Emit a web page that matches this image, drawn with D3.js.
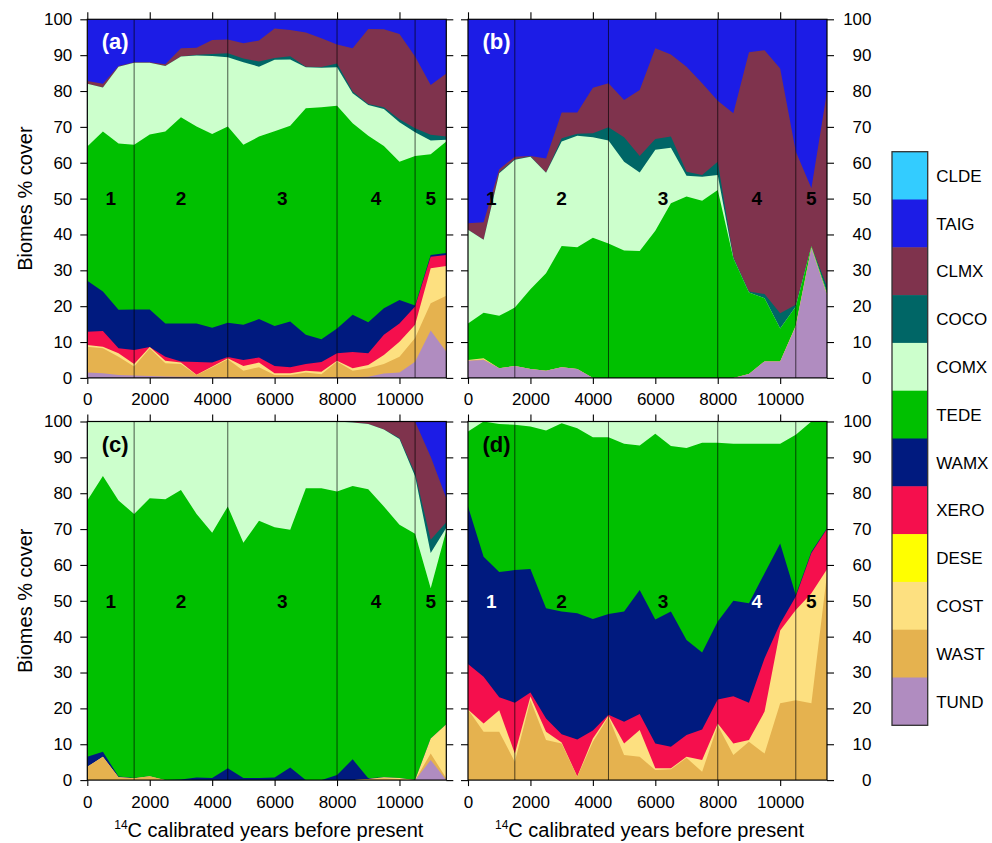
<!DOCTYPE html>
<html>
<head>
<meta charset="utf-8">
<script src="https://cdn.jsdelivr.net/npm/d3@7"></script>
<style>
  body { margin: 0; background: #fff; }
  svg { display: block; }
  text { font-family: "Liberation Sans", Arial, Helvetica, sans-serif; }
</style>
</head>
<body>
<svg id="chart" width="992" height="843"></svg>
<script>
// ---- time axis (calibrated years BP) ----
const years = [0, 500, 1000, 1500, 2000, 2500, 3000, 3500, 4000, 4500, 5000, 5500,
               6000, 6500, 7000, 7500, 8000, 8500, 9000, 9500, 10000, 10500, 11000, 11500];

// ---- biomes, bottom of the stack first ----
const biomes = ["TUND", "WAST", "COST", "DESE", "XERO", "WAMX", "TEDE", "COMX", "COCO", "CLMX", "TAIG", "CLDE"];
const biomeColors = ["#b08cc0", "#e5b24f", "#fde080", "#ffff00", "#f50f4d", "#001a7f",
                     "#00c000", "#ccffcc", "#006666", "#7f334d", "#1c1ce6", "#33ccff"];

const yTicks = [0, 10, 20, 30, 40, 50, 60, 70, 80, 90, 100];
const xTicks = [0, 2000, 4000, 6000, 8000, 10000];
const zoneBounds = [1500, 4500, 8000, 10500];
const zoneNames = ["1", "2", "3", "4", "5"];
const zoneCenters = [750, 3000, 6250, 9250, 11000];

// ---- panel (a) ----
const A_TUND = [1.5,1.3,0.8,0.7,0.5,0.4,0.3,0.3,0.2,0.2,0.2,0.2,0.2,0.2,0.2,0.2,0.2,0.2,0.3,1.2,1.5,4.5,13.2,7.3];
const A_WAST = [7.2,7.0,5.1,2.5,7.8,3.7,3.6,0.5,2.8,5.0,1.8,2.8,0.6,0.6,1.3,0.8,4.4,1.8,2.4,2.7,4.4,6.6,7.6,15.6];
const A_COST = [0.5,0.4,1.0,0.7,0.3,0.7,0.4,0.1,0.2,0.3,1.3,1.3,0.5,0.5,0.5,0.7,0.2,0.7,0.9,2.5,4.2,3.7,9.8,8.3];
const A_XERO = [3.7,4.4,1.4,3.9,0.0,1.1,0.3,3.5,1.1,0.3,1.7,1.4,2.0,1.7,1.9,2.7,2.1,4.5,3.3,5.6,5.1,5.1,3.2,3.1];
const A_WAMX = [14.2,11.0,10.7,11.3,10.5,9.3,10.6,10.8,9.7,9.6,9.8,10.7,11.2,12.7,8.1,6.4,6.9,10.4,8.6,7.4,6.5,0.3,0.5,0.5];
const A_TEDE = [37.4,44.6,46.4,45.9,48.8,53.5,57.5,54.9,54.0,54.7,50.2,50.9,54.3,54.6,63.2,64.7,62.1,53.4,52.0,45.3,38.6,41.7,28.1,31.1];
const A_COMX = [17.5,12.3,21.4,22.9,20.0,18.3,16.9,19.8,21.8,19.3,23.0,19.5,19.9,18.5,11.4,11.0,10.7,8.4,8.6,10.3,11.0,6.6,3.8,0.5];
const A_COCO = [0,0,0,0,0,0,0,0.2,0.5,1.1,1.1,1.4,0.5,0.9,0.2,0.2,1.1,0.5,0.3,0.5,0.8,1.1,1.6,0.9];
const A_CLMX = [0.8,1.0,0.2,0.1,0.1,0.5,2.3,2.0,3.9,3.9,4.2,5.9,8.2,7.3,9.5,8.0,5.3,12.0,20.9,21.7,23.8,20.0,13.9,17.6];
const A_TAIG = [17.2,18.0,13.0,12.0,12.0,12.5,8.1,7.9,5.8,5.6,6.7,5.9,2.6,3.0,3.7,5.3,7.0,8.1,2.7,2.8,4.1,10.4,18.3,15.1];

// ---- panel (b) ----
const B_TUND = [4.8,5.0,2.7,3.3,2.5,2.0,3.0,2.5,0,0,0,0,0,0,0,0,0,0,1.1,4.6,4.6,14.3,36.2,23.1];
const B_WAST = [0,0.2,0,0,0,0,0,0,0,0,0,0,0,0,0,0,0,0,0,0,0,0,0,0];
const B_COST = [0.2,0.3,0,0,0,0,0,0,0,0,0,0,0,0,0,0,0,0,0,0,0,0.3,0.2,0.3];
const B_TEDE = [10.2,12.7,14.6,16.3,22.2,27.2,33.8,33.9,39.1,37.5,35.5,35.4,41.0,48.7,50.6,49.4,52.4,33.4,22.7,17.6,9.2,5.3,0.3,0.5];
const B_COMX = [26.1,20.3,39.8,41.2,37.0,28.0,29.1,31.1,28.0,28.7,24.8,21.9,22.6,15.5,5.8,6.7,4.2,0,0,0,0,0,0,0];
const B_COCO = [0,0,0.2,0.2,0.1,0,0.9,0.6,1.1,3.7,6.8,4.6,3.0,3.1,1.1,0.5,3.7,0.3,0.3,1.2,4.2,0.5,0,1.6];
const B_CLMX = [1.8,4.9,0.9,0.7,0.1,4.0,7.2,5.9,12.7,12.3,10.4,18.4,25.3,22.9,29.3,25.6,17.0,40.1,66.7,68.0,68.3,42.7,16.2,54.3];
const B_TAIG = [56.9,56.6,41.8,38.3,38.1,38.8,26.0,26.0,19.1,17.8,22.5,19.7,8.1,9.8,13.2,17.8,22.7,26.2,9.2,8.6,13.7,36.9,47.1,20.2];

// ---- panel (c) ----
const C_TUND = [0,0,0,0,0,0,0,0,0,0,0,0,0,0,0,0,0,0,0,0,0,0,5.6,0];
const C_WAST = [3.7,6.5,0.8,0.5,1.1,0,0,0,0,0,0,0,0,0,0,0,0,0,0.3,0.5,0.3,0,1.8,0.5];
const C_COST = [0,0,0,0,0,0,0,0,0,0,0,0,0,0,0,0,0,0,0,0.3,0.3,0,4.2,15.1];
const C_WAMX = [2.8,1.4,0.2,0.1,0,0,0.2,0.7,0.6,3.3,0.6,0.6,0.7,3.5,0,0,1.4,5.8,0.2,0,0,0,0,0];
const C_TEDE = [71.5,76.9,77.0,73.6,77.5,78.3,80.7,73.5,68.4,73.0,65.6,71.7,69.8,66.3,81.4,81.4,79.1,76.2,80.6,75.5,70.6,68.7,41.9,54.0];
const C_COMX = [22.0,15.2,22.0,25.8,21.4,21.7,19.1,25.8,31.0,23.7,33.8,27.7,29.5,30.2,18.6,18.6,19.5,17.7,18.2,21.5,23.9,16.0,9.8,0.8];
const C_COCO = [0,0,0,0,0,0,0,0,0,0,0,0,0,0,0,0,0,0,0,0,0.3,0.9,3.7,1.5];
const C_CLMX = [0,0,0,0,0,0,0,0,0,0,0,0,0,0,0,0,0,0.3,0.7,2.2,4.6,14.4,23.2,6.7];
const C_TAIG = [0,0,0,0,0,0,0,0,0,0,0,0,0,0,0,0,0,0,0,0,0,0,9.8,21.4];

// ---- panel (d) ----
const D_WAST = [19.7,13.5,13.5,5.1,22.3,11.2,10.2,0.9,10.7,17.7,7.0,6.5,2.8,3.0,6.2,2.3,15.3,7.0,10.7,7.4,21.4,22.3,21.4,57.5];
const D_COST = [0,2.3,6.0,2.3,1.0,2.3,0.3,0.1,0.9,0.3,3.2,7.5,0.5,0.3,0.3,3.3,0.5,3.2,0.5,11.7,20.3,25.1,30.7,1.3];
const D_XERO = [12.7,13.0,3.6,14.2,1.1,3.7,2.3,10.3,2.2,0.2,6.1,4.4,6.9,6.0,6.1,8.5,6.7,13.2,10.4,14.9,2.0,3.8,11.2,11.2];
const D_WAMX = [43.9,33.5,34.9,37.0,34.5,30.7,34.2,35.2,31.1,28.1,30.7,34.6,34.6,37.7,26.5,21.5,21.7,26.6,27.7,23.7,22.3,0.4,0.4,0.2];
const D_TEDE = [20.9,37.7,41.3,40.5,39.7,49.6,52.5,51.6,50.7,49.3,46.8,40.3,51.8,46.2,53.5,58.5,49.9,43.8,44.5,36.1,27.8,44.7,36.3,29.8];
const D_COMX = [2.8,0,0.7,0.9,1.4,2.5,0.5,1.9,4.4,4.4,6.2,6.7,3.4,6.8,7.4,5.9,5.9,6.2,6.2,6.2,6.2,3.7,0,0];

// ---- layout ----
const W = 359, H = 358.6;
const panels = [
  { tag: "(a)", x0: 87.3, y0: 19.3, side: "left",  tagColor: "#fff", zoneColors: ["#000","#000","#000","#000","#000"], xTitle: false,
    series: { TUND: A_TUND, WAST: A_WAST, COST: A_COST, XERO: A_XERO, WAMX: A_WAMX, TEDE: A_TEDE, COMX: A_COMX, COCO: A_COCO, CLMX: A_CLMX, TAIG: A_TAIG } },
  { tag: "(b)", x0: 468,  y0: 19.3, side: "right", tagColor: "#fff", zoneColors: ["#000","#000","#000","#000","#000"], xTitle: false,
    series: { TUND: B_TUND, WAST: B_WAST, COST: B_COST, TEDE: B_TEDE, COMX: B_COMX, COCO: B_COCO, CLMX: B_CLMX, TAIG: B_TAIG } },
  { tag: "(c)", x0: 87.3, y0: 421.5, side: "left",  tagColor: "#000", zoneColors: ["#000","#000","#000","#000","#000"], xTitle: true,
    series: { TUND: C_TUND, WAST: C_WAST, COST: C_COST, WAMX: C_WAMX, TEDE: C_TEDE, COMX: C_COMX, COCO: C_COCO, CLMX: C_CLMX, TAIG: C_TAIG } },
  { tag: "(d)", x0: 468,  y0: 421.5, side: "right", tagColor: "#000", zoneColors: ["#fff","#000","#000","#fff","#000"], xTitle: true,
    series: { WAST: D_WAST, COST: D_COST, XERO: D_XERO, WAMX: D_WAMX, TEDE: D_TEDE, COMX: D_COMX } }
];

const svg = d3.select("#chart");
svg.append("rect").attr("width", 992).attr("height", 843).attr("fill", "#fff");
const colorOf = d3.scaleOrdinal(biomes, biomeColors);

panels.forEach((p, pi) => {
  const x = d3.scaleLinear([0, 11500], [p.x0, p.x0 + W]);
  const y = d3.scaleLinear([0, 100], [p.y0 + H, p.y0]);

  const rows = years.map((yr, i) => {
    const r = { year: yr };
    biomes.forEach(k => { r[k] = p.series[k] ? p.series[k][i] : 0; });
    return r;
  });
  const layers = d3.stack().keys(biomes)(rows);

  const clipId = "clip" + pi;
  svg.append("clipPath").attr("id", clipId)
    .append("rect").attr("x", p.x0).attr("y", p.y0).attr("width", W).attr("height", H);

  const g = svg.append("g").attr("clip-path", `url(#${clipId})`);

  // each layer is filled from the baseline up to its cumulative top, top layer first
  const area = d3.area()
    .x(d => x(d.data.year))
    .y0(y(0))
    .y1(d => y(d[1]));
  layers.slice().reverse().forEach(layer => {
    if (!p.series[layer.key]) return;
    g.append("path").datum(layer)
      .attr("d", area)
      .attr("fill", colorOf(layer.key));
  });

  // zone boundaries
  g.selectAll("line.zone").data(zoneBounds).join("line")
    .attr("x1", d => x(d)).attr("x2", d => x(d))
    .attr("y1", p.y0).attr("y2", p.y0 + H)
    .attr("stroke", "#000").attr("stroke-opacity", 0.65).attr("stroke-width", 1);

  // zone numbers
  svg.append("g").selectAll("text").data(zoneNames).join("text")
    .attr("x", (d, i) => x(zoneCenters[i]))
    .attr("y", y(50))
    .attr("dy", "0.36em")
    .attr("text-anchor", "middle")
    .attr("font-size", 19).attr("font-weight", "bold")
    .attr("fill", (d, i) => p.zoneColors[i])
    .text(d => d);

  // panel tag
  svg.append("text")
    .attr("x", p.x0 + 14.5).attr("y", p.y0 + 30)
    .attr("font-size", 22).attr("font-weight", "bold")
    .attr("fill", p.tagColor)
    .text(p.tag);

  // frame
  svg.append("rect")
    .attr("x", p.x0).attr("y", p.y0).attr("width", W).attr("height", H)
    .attr("fill", "none").attr("stroke", "#000").attr("stroke-width", 1.2);

  // axes
  const styleAxis = sel => {
    sel.select(".domain").remove();
    sel.selectAll(".tick line").attr("stroke", "#000").attr("stroke-width", 1.1);
    sel.selectAll(".tick text").attr("font-size", 17).attr("fill", "#000")
      .attr("font-family", "\"Liberation Sans\", Arial, Helvetica, sans-serif");
  };

  svg.append("g").attr("transform", `translate(0,${p.y0 + H})`)
    .call(d3.axisBottom(x).tickValues(xTicks).tickSize(6).tickSizeOuter(0).tickPadding(9.5).tickFormat(d3.format("d")))
    .call(styleAxis);
  svg.append("g").attr("transform", `translate(0,${p.y0})`)
    .call(d3.axisTop(x).tickValues(xTicks).tickSize(7).tickSizeOuter(0).tickFormat(""))
    .call(styleAxis);

  const leftAx = d3.axisLeft(y).tickValues(yTicks).tickSize(7).tickSizeOuter(0);
  const rightAx = d3.axisRight(y).tickValues(yTicks).tickSize(7).tickSizeOuter(0);
  if (p.side === "left") {
    svg.append("g").attr("transform", `translate(${p.x0},0)`)
      .call(leftAx.tickPadding(8)).call(styleAxis);
    svg.append("g").attr("transform", `translate(${p.x0 + W},0)`)
      .call(rightAx.tickFormat("")).call(styleAxis);
  } else {
    svg.append("g").attr("transform", `translate(${p.x0},0)`)
      .call(leftAx.tickFormat("")).call(styleAxis);
    const ra = svg.append("g").attr("transform", `translate(${p.x0 + W},0)`)
      .call(rightAx).call(styleAxis);
    ra.selectAll(".tick text").attr("text-anchor", "end").attr("x", 44.5);
  }

  // axis titles
  if (p.side === "left") {
    svg.append("text")
      .attr("transform", `translate(25,${p.y0 + H / 2}) rotate(-90)`)
      .attr("text-anchor", "middle").attr("dy", "0.35em")
      .attr("font-size", 20).attr("fill", "#000")
      .text("Biomes % cover");
  }
  if (p.xTitle) {
    const t = svg.append("text")
      .attr("x", p.x0 + W / 2 + 2).attr("y", 836.5)
      .attr("text-anchor", "middle").attr("font-size", 20).attr("fill", "#000");
    t.append("tspan").attr("font-size", 12).attr("dy", -8).text("14");
    t.append("tspan").attr("dy", 8).text("C calibrated years before present");
  }
});

// ---- legend ----
const legendTop = 151.7, legendCell = 47.8, legendX = 892, legendW = 35.7;
const legendItems = biomes.slice().reverse();
const lg = svg.append("g");
lg.selectAll("rect.cell").data(legendItems).join("rect")
  .attr("x", legendX).attr("y", (d, i) => legendTop + i * legendCell)
  .attr("width", legendW).attr("height", legendCell + 0.5)
  .attr("fill", d => colorOf(d));
lg.append("rect")
  .attr("x", legendX).attr("y", legendTop)
  .attr("width", legendW).attr("height", legendCell * legendItems.length)
  .attr("fill", "none").attr("stroke", "#333").attr("stroke-width", 1.3);
lg.selectAll("text").data(legendItems).join("text")
  .attr("x", legendX + legendW + 8.5)
  .attr("y", (d, i) => legendTop + (i + 0.5) * legendCell)
  .attr("dy", "0.36em")
  .attr("font-size", 17).attr("fill", "#000")
  .text(d => d);
</script>
</body>
</html>
